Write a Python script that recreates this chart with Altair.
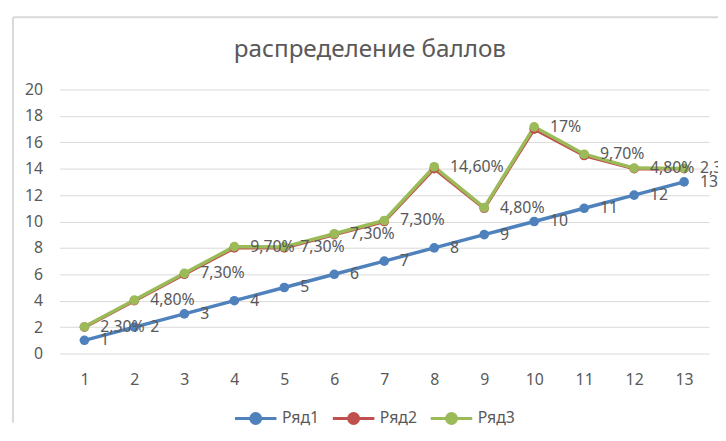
import altair as alt
import pandas as pd

FONT = "Noto Sans"
TEXT = "#595959"

categories = list(range(1, 14))
series_names = ["Ряд1", "Ряд2", "Ряд3"]
series_colors = ["#4F81BD", "#C0504D", "#9BBB59"]

series1 = [1, 2, 3, 4, 5, 6, 7, 8, 9, 10, 11, 12, 13]
series2 = [2, 4, 6, 8, 8, 9, 10, 14, 11, 17, 15, 14, 14]
series3_share = [0.023, 0.048, 0.073, 0.097, 0.073, 0.073, 0.073, 0.146, 0.048, 0.17, 0.097, 0.048, 0.023]
series3_labels = ["2,30%", "4,80%", "7,30%", "9,70%", "7,30%", "7,30%", "7,30%",
                  "14,60%", "4,80%", "17%", "9,70%", "4,80%", "2,30%"]
series1_labels = [str(v) for v in series1]
chart_title = "распределение баллов"

rows = []
for i, c in enumerate(categories):
    rows.append({"x": c, "y": series1[i], "s": "Ряд1", "lab": series1_labels[i], "k": 0})
for i, c in enumerate(categories):
    rows.append({"x": c, "y": series2[i], "s": "Ряд2", "lab": "", "k": 1})
for i, c in enumerate(categories):
    # stacked line: Ряд3 sits on top of Ряд2
    rows.append({"x": c, "y": series2[i] + series3_share[i], "s": "Ряд3", "lab": series3_labels[i], "k": 2})
df = pd.DataFrame(rows)

W, H = 657, 267

x = alt.X("x:O", scale=alt.Scale(type="point", padding=0.5),
          axis=alt.Axis(title=None, labelAngle=0, domain=False, ticks=False, grid=False,
                        labelPadding=18, labelFontSize=16, labelColor=TEXT, labelFont=FONT))
y = alt.Y("y:Q", scale=alt.Scale(domain=[0, 20], nice=False),
          axis=alt.Axis(values=list(range(0, 21, 2)), title=None, domain=False, ticks=False,
                        gridColor="#D9D9D9", gridWidth=1, labelPadding=17, labelFontSize=16,
                        labelColor=TEXT, labelFont=FONT))
color = alt.Color("s:N", scale=alt.Scale(domain=series_names, range=series_colors),
                  legend=alt.Legend(title=None, orient="none", legendX=176, legendY=310,
                                    direction="horizontal",
                                    symbolType="M-1,0H1M-0.24,0A0.24,0.24,0,1,1,0.24,0A0.24,0.24,0,1,1,-0.24,0Z",
                                    symbolSize=1760, symbolStrokeWidth=3, labelFontSize=16,
                                    labelColor=TEXT, labelFont=FONT, columnPadding=7,
                                    labelOffset=4))

base = alt.Chart(df)
lines = base.mark_line(strokeWidth=3.5, strokeCap="round", strokeJoin="round").encode(
    x=x, y=y, color=color, order="x:O")
points = base.mark_circle(size=95, opacity=1).encode(x=x, y=y, color=color, order="k:Q")
texts = base.transform_filter("datum.lab != ''").mark_text(
    align="left", baseline="middle", dx=16, fontSize=16, color=TEXT, font=FONT
).encode(x=x, y=y, text="lab:N")

frame_src = alt.Chart(pd.DataFrame({"d": [0]}))
left_border = frame_src.mark_rule(color="#D9D9D9", strokeWidth=2).encode(
    x=alt.value(-47), y=alt.value(-73), y2=alt.value(337))
top_border = frame_src.mark_rule(color="#D9D9D9", strokeWidth=2).encode(
    x=alt.value(-47), x2=alt.value(670), y=alt.value(-73))
title_text = frame_src.mark_text(fontSize=24.5, color=TEXT, font=FONT, align="center",
                                 baseline="middle").encode(
    x=alt.value(314), y=alt.value(-40), text=alt.value(chart_title))

chart = alt.layer(left_border, top_border, title_text, lines, points, texts).properties(
    width=W, height=H,
    autosize=alt.AutoSizeParams(type="none"),
    padding={"left": 52, "top": 80, "right": 9, "bottom": 78},
).configure_view(stroke=None)

chart.save("out.html", embed_options={"renderer": "svg", "actions": False})
